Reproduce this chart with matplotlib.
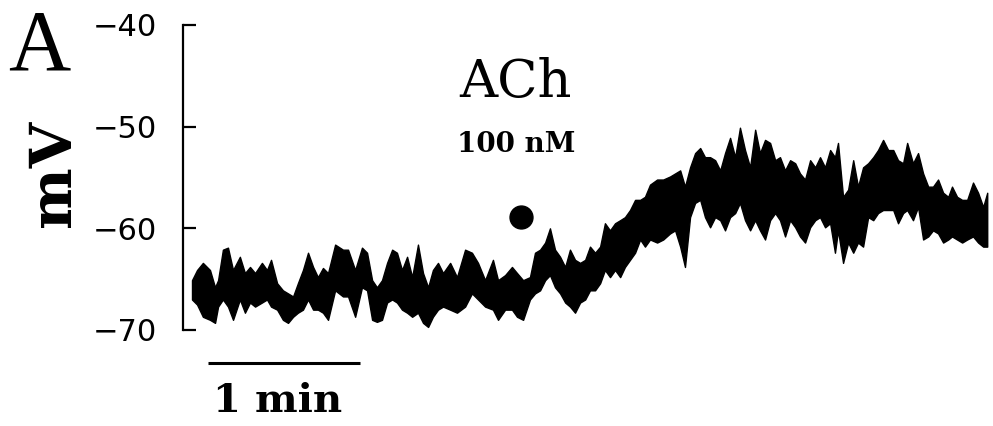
import matplotlib
matplotlib.use("Agg")
import matplotlib.pyplot as plt

# ---- data (time in s, membrane potential in mV) ----
time_s = [0.0, 2.0, 4.3, 7.1, 9.1, 10.3, 12.2, 14.2, 16.2, 18.9, 20.9, 22.9, 24.9, 27.6, 29.6,
          31.2, 33.6, 35.9, 37.9, 39.9, 41.8, 43.8, 45.8, 47.8, 49.7, 51.7, 53.7, 56.5, 59.6,
          61.6, 64.4, 67.1, 69.1, 71.1, 73.0, 75.0, 77.0, 79.0, 80.9, 82.9, 84.9, 86.9, 89.2,
          91.2, 93.2, 95.1, 97.1, 99.1, 101.9, 104.6, 107.8, 110.5, 112.9, 115.7, 118.8, 120.8,
          123.6, 126.3, 128.3, 130.7, 133.4, 135.4, 137.4, 139.4, 141.3, 143.3, 145.3, 147.3,
          149.2, 151.2, 153.2, 155.2, 157.1, 159.1, 161.1, 163.0, 165.0, 167.0, 169.0, 170.9,
          172.9, 174.9, 176.9, 178.8, 180.8, 183.6, 186.0, 188.7, 190.7, 192.7, 194.6, 196.6,
          198.6, 200.6, 202.5, 204.5, 206.5, 208.5, 210.4, 212.4, 214.4, 216.3, 218.3, 220.3,
          222.3, 224.2, 226.2, 228.2, 230.2, 232.1, 234.1, 236.1, 238.1, 240.0, 242.0, 244.0,
          246.0, 247.9, 249.9, 251.9, 253.8, 255.0, 257.0, 259.0, 261.0, 262.9, 264.9, 266.9,
          268.9, 270.8, 272.8, 274.8, 276.8, 278.7, 280.7, 282.3, 284.6, 286.6, 288.6, 290.6,
          292.5, 294.5, 296.5, 298.5, 300.0, 302.0, 304.0, 306.0, 308.3, 310.3, 312.3, 313.9]

upper_mV = [-65.1, -64.1, -63.4, -64.1, -65.8, -65.1, -62.1, -61.9, -64.1, -62.8, -64.4, -63.8,
            -64.4, -63.4, -64.1, -63.1, -65.4, -66.1, -66.4, -66.7, -65.4, -64.1, -62.4, -63.8,
            -64.8, -63.9, -64.4, -61.6, -62.1, -62.1, -64.1, -61.9, -62.4, -65.1, -65.8, -65.1,
            -63.4, -62.1, -62.4, -64.1, -62.8, -64.8, -61.6, -64.4, -65.8, -64.1, -63.4, -64.4,
            -63.4, -64.8, -62.1, -62.4, -63.4, -65.1, -63.1, -65.1, -64.6, -63.8, -64.4, -65.1,
            -64.8, -62.4, -62.1, -61.4, -60.0, -62.1, -62.8, -63.8, -62.1, -63.1, -63.4, -63.1,
            -61.8, -62.4, -61.8, -59.5, -60.2, -59.5, -59.2, -58.9, -58.2, -57.2, -57.2, -56.9,
            -55.7, -55.2, -55.2, -54.9, -54.6, -54.3, -55.9, -54.0, -52.6, -52.1, -53.0, -53.0,
            -53.3, -54.3, -52.6, -51.1, -53.0, -50.1, -52.3, -54.0, -50.3, -52.6, -51.3, -51.6,
            -53.3, -53.0, -54.3, -53.3, -53.6, -54.6, -55.2, -53.3, -54.0, -53.0, -54.0, -52.3,
            -53.0, -51.6, -56.9, -56.2, -53.3, -55.9, -54.0, -53.6, -53.0, -52.3, -51.3, -52.3,
            -52.3, -53.3, -53.6, -51.6, -53.6, -52.6, -54.6, -55.9, -55.9, -55.2, -56.5, -56.9,
            -55.9, -56.9, -57.2, -57.2, -55.5, -56.5, -57.9, -56.5]

lower_mV = [-67.0, -67.5, -68.7, -69.0, -69.3, -67.7, -67.0, -67.7, -69.0, -67.0, -68.3, -67.3,
            -67.7, -67.3, -67.0, -67.7, -68.0, -69.0, -69.3, -68.7, -68.3, -68.0, -67.0, -68.0,
            -68.0, -68.3, -69.0, -66.1, -66.7, -66.7, -68.7, -65.8, -66.1, -69.0, -69.2, -69.0,
            -67.3, -67.0, -67.3, -68.0, -68.3, -68.7, -68.3, -69.3, -69.7, -68.7, -68.0, -67.7,
            -68.0, -68.3, -67.7, -66.4, -67.0, -67.7, -68.0, -69.0, -68.0, -68.0, -68.7, -69.0,
            -67.0, -66.4, -66.1, -65.1, -64.6, -65.8, -66.4, -67.3, -67.7, -68.3, -67.3, -67.0,
            -66.1, -66.1, -65.4, -64.1, -64.8, -64.1, -64.8, -63.8, -63.1, -62.4, -61.1, -61.8,
            -61.1, -61.4, -61.1, -60.5, -60.2, -61.8, -63.8, -58.9, -57.5, -57.2, -58.9, -59.9,
            -58.9, -59.2, -60.2, -58.9, -58.5, -57.5, -59.2, -60.2, -59.2, -60.2, -61.1, -59.2,
            -58.5, -59.2, -60.8, -59.2, -59.9, -60.8, -61.4, -59.9, -59.2, -58.9, -59.9, -59.5,
            -62.4, -60.2, -63.4, -61.4, -62.4, -61.4, -61.8, -58.9, -59.2, -58.5, -58.2, -58.2,
            -58.2, -59.5, -58.5, -58.2, -59.2, -57.9, -61.1, -60.8, -60.2, -60.5, -61.4, -61.1,
            -60.8, -61.1, -61.4, -61.1, -60.8, -61.4, -61.8, -61.8]

y_ticks = [-40, -50, -60, -70]
y_tick_labels = ["\u221240", "\u221250", "\u221260", "\u221270"]

ach_time_s = 129.9      # application marker (dot)
ach_marker_mV = -58.9
scale_bar_start_s = 6.3
scale_bar_len_s = 60.0  # 1 min
scale_bar_mV = -73.2

# ---- figure ----
W, H = 993, 426
fig = plt.figure(figsize=(W / 100, H / 100), dpi=100)
ax = fig.add_axes([183 / W, (H - 330) / H, (990 - 183) / W, 305 / H])

ax.fill_between(time_s, lower_mV, upper_mV, color="black", lw=1.0)

ax.set_xlim(-3.55, 315)
ax.set_ylim(-70, -40)
for s in ["top", "right", "bottom"]:
    ax.spines[s].set_visible(False)
ax.spines["left"].set_linewidth(1.6)
ax.set_xticks([])
ax.set_yticks(y_ticks)
ax.set_yticklabels(y_tick_labels, fontfamily="DejaVu Sans")
ax.tick_params(axis="y", direction="in", length=9.5, width=1.6, pad=19, labelsize=22)

ax.plot([ach_time_s], [ach_marker_mV], "o", color="black", ms=16.5)
ax.plot([scale_bar_start_s, scale_bar_start_s + scale_bar_len_s], [scale_bar_mV, scale_bar_mV],
        color="black", lw=2.2, clip_on=False, solid_capstyle="butt")

def fx(px):
    return px / W

def fy(py):
    return 1 - py / H

fig.text(fx(8), fy(70), "A", family="Liberation Serif", fontsize=62, va="baseline", ha="left")
fig.text(fx(70), fy(173), "mV", family="DejaVu Serif", fontweight="bold", fontsize=42,
         rotation=90, rotation_mode="anchor", va="baseline", ha="center")
fig.text(fx(459), fy(97), "ACh", family="DejaVu Serif", fontsize=38, va="baseline", ha="left")
fig.text(fx(457), fy(152), "100 nM", family="DejaVu Serif", fontweight="bold", fontsize=20,
         va="baseline", ha="left")
fig.text(fx(213), fy(412), "1 min", family="DejaVu Serif", fontweight="bold", fontsize=29,
         va="baseline", ha="left")

fig.savefig("out.png", dpi=100)
